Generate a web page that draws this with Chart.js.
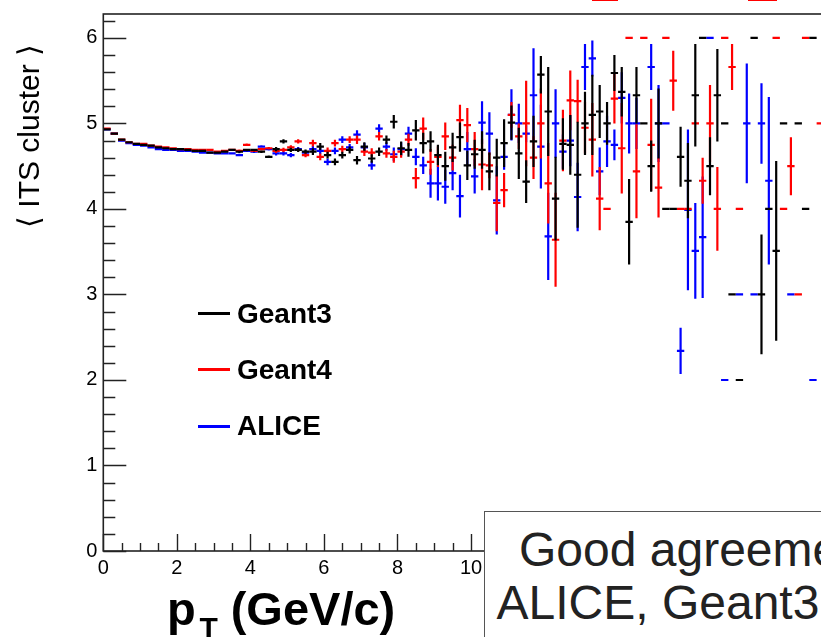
<!DOCTYPE html>
<html>
<head>
<meta charset="utf-8">
<title>ITS cluster vs pT</title>
<script src="https://cdn.jsdelivr.net/npm/chart.js@4.4.1/dist/chart.umd.min.js"></script>
<style>
  html, body { margin: 0; padding: 0; background: #fff; }
  body {
    width: 821px; height: 637px; overflow: hidden; position: relative;
    font-family: 'Liberation Sans', Arial, sans-serif; color: #000;
  }
  #chart { position: absolute; left: 0; top: 0; }
  .abs  { position: absolute; white-space: nowrap; line-height: 1; }
  .leg-line { position: absolute; left: 198px; width: 32px; height: 3px; }
  .leg-txt  { position: absolute; left: 237px; font-size: 28px; font-weight: bold; line-height: 1; }
  #ytitle {
    position: absolute; left: -91.2px; top: 120px; width: 240px; height: 32px;
    line-height: 32px; font-size: 30px; text-align: center; white-space: nowrap;
    transform: rotate(-90deg);
  }
  #note {
    position: absolute; left: 484px; top: 511px; width: 420px; height: 200px;
    background: #fff; border: 1.5px solid #555; box-sizing: border-box;
  }
  .note-txt { position: absolute; font-size: 48px; line-height: 1; color: #222; white-space: nowrap; }
  .topmark { position: absolute; top: 0; height: 1px; background: #f00; }
</style>
</head>
<body>
<canvas id="chart" width="900" height="637"></canvas>

<div id="ytitle">⟨ ITS cluster ⟩</div>

<div class="leg-line" style="top:311.5px;background:#000"></div>
<div class="leg-txt"  style="top:299.6px">Geant3</div>
<div class="leg-line" style="top:367.5px;background:#f00"></div>
<div class="leg-txt"  style="top:356.3px">Geant4</div>
<div class="leg-line" style="top:424.5px;background:#00f"></div>
<div class="leg-txt"  style="top:412.3px">ALICE</div>

<div class="abs" style="left:167px;top:585.2px;font-size:47px;font-weight:bold">p</div>
<div class="abs" style="left:199.5px;top:613.1px;font-size:30px;font-weight:bold">T</div>
<div class="abs" style="left:230.7px;top:585.2px;font-size:47px;font-weight:bold">(GeV/c)</div>

<div id="note"></div>
<div class="note-txt" style="left:519px;top:526.4px">Good agreement between</div>
<div class="note-txt" style="left:496.5px;top:579.4px">ALICE, Geant3 and Geant4</div>

<div class="topmark" style="left:592px;width:26px"></div>
<div class="topmark" style="left:748px;width:29px"></div>

<script>
// ---------------------------------------------
// Data: mean number of ITS clusters per pT bin
// ---------------------------------------------

const binWidth = 0.2;

const pT = [
  0.1, 0.3, 0.5, 0.7, 0.9, 1.1, 1.3, 1.5, 1.7, 1.9,
  2.1, 2.3, 2.5, 2.7, 2.9, 3.1, 3.3, 3.5, 3.7, 3.9,
  4.1, 4.3, 4.5, 4.7, 4.9, 5.1, 5.3, 5.5, 5.7, 5.9,
  6.1, 6.3, 6.5, 6.7, 6.9, 7.1, 7.3, 7.5, 7.7, 7.9,
  8.1, 8.3, 8.5, 8.7, 8.9, 9.1, 9.3, 9.5, 9.7, 9.9,
  10.1, 10.3, 10.5, 10.7, 10.9, 11.1, 11.3, 11.5, 11.7, 11.9,
  12.1, 12.3, 12.5, 12.7, 12.9, 13.1, 13.3, 13.5, 13.7, 13.9,
  14.1, 14.3, 14.5, 14.7, 14.9, 15.1, 15.3, 15.5, 15.7, 15.9,
  16.1, 16.3, 16.5, 16.7, 16.9, 17.1, 17.3, 17.5, 17.7, 17.9,
  18.1, 18.3, 18.5, 18.7, 18.9, 19.1, 19.3, 19.5
];

const geant3 = [
  4.93, 4.88, 4.81, 4.78, 4.76, 4.75, 4.74, 4.72, 4.71, 4.70,
  4.70, 4.69, 4.68, 4.68, 4.66, 4.66, 4.67, 4.69, 4.67, 4.69,
  4.69, 4.67, 4.61, 4.70, 4.79, 4.69, 4.69, 4.67, 4.67, 4.73,
  4.63, 4.55, 4.63, 4.69, 4.57, 4.73, 4.59, 4.67, 4.81, 5.02,
  4.71, 4.69, 4.92, 4.77, 4.79, 4.63, 4.50, 4.72, 4.84, 4.51,
  4.64, 4.69, 4.44, 4.60, 4.77, 5.01, 4.65, 4.32, 4.79, 5.57,
  5.14, 4.12, 4.76, 4.75, 4.40, 5.00, 5.10, 5.14, 5.00, 5.59,
  5.37, 3.85, 5.33, 5.00, 4.50, 5.00, 4.00, 4.00, 4.61, 4.33,
  5.33, 6.00, 4.50, 5.33, 5.00, 3.00, 2.00, null, 6.00, 3.00,
  4.00, 3.51, 5.00, null, 5.00, 4.00, 6.00, null
];
const geant3Err = [
  0.005, 0.005, 0.005, 0.005, 0.005, 0.005, 0.005, 0.005, 0.005, 0.005,
  0.008, 0.008, 0.008, 0.008, 0.008, 0.008, 0.008, 0.008, 0.015, 0.015,
  0.015, 0.015, 0.015, 0.025, 0.025, 0.025, 0.025, 0.025, 0.04, 0.04,
  0.04, 0.04, 0.04, 0.04, 0.05, 0.05, 0.05, 0.05, 0.05, 0.08,
  0.08, 0.08, 0.12, 0.12, 0.12, 0.12, 0.17, 0.17, 0.17, 0.17,
  0.17, 0.22, 0.22, 0.22, 0.28, 0.20, 0.30, 0.25, 0.30, 0.22,
  0.52, 0.49, 0.30, 0.35, 0.62, 0.37, 0.47, 0.31, 0.25, 0.21,
  0.29, 0.50, 0.33, 0, 0.30, 0.41, 0, 0, 0.35, 0.44,
  0.60, 0, 0.34, 0.54, 0, 0, 0, null, 0, 0.70,
  0, 1.05, 0, null, 0, 0, 0, null
];

const geant4 = [
  4.94, 4.88, 4.81, 4.78, 4.76, 4.76, 4.74, 4.73, 4.72, 4.71,
  4.70, 4.70, 4.69, 4.69, 4.69, 4.67, 4.68, 4.69, 4.68, 4.75,
  4.68, 4.70, 4.71, 4.68, 4.69, 4.72, 4.79, 4.63, 4.77, 4.61,
  4.68, 4.77, 4.70, 4.81, 4.81, 4.67, 4.66, 4.85, 4.65, 4.61,
  4.67, 4.81, 4.36, 4.94, 4.55, 4.61, 4.85, 4.60, 5.04, 4.98,
  4.70, 4.52, 4.51, 4.07, 4.22, 5.10, 4.85, 5.00, 4.60, 5.00,
  4.30, 3.64, 4.80, 5.27, 5.26, 4.95, 4.81, 4.12, 4.00, 5.29,
  4.71, 6.00, 4.44, 6.00, 4.75, 4.25, 6.00, 5.50, 4.00, 4.00,
  5.00, 4.33, 5.00, 4.00, 6.00, 5.66, 4.00, null, null, null,
  null, 6.00, 4.00, 4.50, 3.00, 6.00, null, 5.00
];
const geant4Err = [
  0.005, 0.005, 0.005, 0.005, 0.005, 0.005, 0.005, 0.005, 0.005, 0.005,
  0.008, 0.008, 0.008, 0.008, 0.008, 0.008, 0.008, 0.008, 0.015, 0.015,
  0.015, 0.015, 0.015, 0.025, 0.025, 0.025, 0.025, 0.025, 0.04, 0.04,
  0.04, 0.04, 0.04, 0.04, 0.05, 0.05, 0.05, 0.05, 0.05, 0.07,
  0.07, 0.07, 0.12, 0.13, 0.15, 0.12, 0.16, 0.15, 0.18, 0.20,
  0.20, 0.30, 0.15, 0.33, 0.20, 0.15, 0.15, 0.50, 0.25, 0.41,
  0.47, 0.55, 0.36, 0.35, 0.25, 0.30, 0.43, 0.37, 0, 0.29,
  0.53, 0, 0.55, 0, 0.54, 0.35, 0, 0.35, 0, 0,
  0, 0.27, 0.45, 0.49, 0, 0.27, 0, null, null, null,
  null, 0, 0, 0.34, 0, 0, null, 0
];

const alice = [
  4.93, 4.88, 4.80, 4.77, 4.75, 4.74, 4.72, 4.70, 4.69, 4.69,
  4.68, 4.68, 4.67, 4.66, 4.66, 4.65, 4.65, 4.65, 4.63, 4.68,
  4.67, 4.73, 4.70, 4.65, 4.65, 4.63, 4.70, 4.66, 4.70, 4.68,
  4.55, 4.68, 4.81, 4.72, 4.87, 4.72, 4.51, 4.94, 4.73, 4.64,
  4.70, 4.88, 4.61, 4.51, 4.30, 4.30, 4.26, 4.42, 4.15, 4.70,
  4.38, 5.01, 4.88, 4.10, 4.61, 5.10, 5.00, 4.88, 5.33, 4.73,
  3.68, 5.00, 4.67, 4.80, 4.14, 5.66, 5.76, 4.44, 4.79, 4.75,
  5.30, 5.00, 5.00, null, 5.66, 5.00, 5.00, null, 2.34, 3.99,
  3.51, 3.67, 6.00, null, 2.00, null, 3.00, 5.00, 3.00, 5.00,
  4.33, null, null, 3.00, null, null, 2.00, null
];
const aliceErr = [
  0.005, 0.005, 0.005, 0.005, 0.005, 0.005, 0.005, 0.005, 0.005, 0.005,
  0.008, 0.008, 0.008, 0.008, 0.008, 0.008, 0.008, 0.008, 0.015, 0.015,
  0.015, 0.015, 0.015, 0.025, 0.025, 0.025, 0.025, 0.025, 0.04, 0.04,
  0.04, 0.04, 0.04, 0.04, 0.05, 0.05, 0.05, 0.05, 0.05, 0.08,
  0.08, 0.08, 0.10, 0.10, 0.17, 0.20, 0.20, 0.20, 0.25, 0.20,
  0.20, 0.25, 0.25, 0.40, 0.15, 0.30, 0.23, 0.10, 0.55, 0.49,
  0.51, 0.40, 0.20, 0.30, 0.40, 0.27, 0.21, 0.28, 0.30, 0.18,
  0.30, 0.35, 0.30, null, 0.27, 0.45, 0, null, 0.27, 0.94,
  0.56, 0.71, 0, null, 0, null, 0, 0.70, 0, 0.47,
  0.98, null, null, 0, null, null, 0, null
];

const xTicks = [0, 2, 4, 6, 8, 10, 12, 14, 16, 18, 20];
const yTicks = [0, 1, 2, 3, 4, 5, 6];

// ---------------------------------------------
// Helpers / plugins
// ---------------------------------------------

function points(vals, errs) {
  return pT.map((x, i) => ({ x, y: vals[i], err: errs[i] }))
           .filter(p => p.y !== null);
}

// no extra label padding, the frame must sit exactly where ROOT put it
function fixBox(s, size) {
  if (s.isHorizontal()) s.height = size; else s.width = size;
  s.paddingTop = s.paddingBottom = s.paddingLeft = s.paddingRight = 0;
}

// ROOT-style error bars: horizontal bar = bin width, vertical = stat. error
const errorBars = {
  id: 'errorBars',
  afterDatasetsDraw(chart) {
    const { ctx, chartArea: a, scales: { x, y } } = chart;
    const half = binWidth / 2;
    ctx.save();
    ctx.beginPath();
    ctx.rect(a.left, a.top, a.right - a.left, a.bottom - a.top);
    ctx.clip();
    ctx.lineWidth = 2.2;
    // last dataset first, so Geant3 ends up on top
    for (let d = chart.data.datasets.length - 1; d >= 0; d--) {
      const ds = chart.data.datasets[d];
      ctx.strokeStyle = ds.borderColor;
      ds.data.forEach(p => {
        const px = x.getPixelForValue(p.x);
        const py = y.getPixelForValue(p.y);
        ctx.beginPath();
        ctx.moveTo(x.getPixelForValue(p.x - half), py);
        ctx.lineTo(x.getPixelForValue(p.x + half), py);
        if (p.err > 0) {
          ctx.moveTo(px, y.getPixelForValue(p.y + p.err));
          ctx.lineTo(px, y.getPixelForValue(p.y - p.err));
        }
        ctx.stroke();
      });
    }
    ctx.restore();
  }
};

// frame + inward ticks like a ROOT TFrame
const rootFrame = {
  id: 'rootFrame',
  afterDraw(chart) {
    const { ctx, chartArea: a, scales: { x, y } } = chart;
    ctx.save();
    ctx.strokeStyle = '#222';
    ctx.lineWidth = 1.6;
    ctx.strokeRect(a.left, a.top, a.right - a.left, a.bottom - a.top);

    ctx.lineWidth = 1.4;
    ctx.beginPath();
    for (let v = 0; v <= 6.2001; v += 0.2) {
      const py = Math.round(y.getPixelForValue(v)) + 0.5;
      const major = Math.abs(v - Math.round(v)) < 1e-6;
      ctx.moveTo(a.left, py);
      ctx.lineTo(a.left + (major ? 23 : 12), py);
    }
    for (let v = 0; v <= 20.001; v += 0.5) {
      const px = Math.round(x.getPixelForValue(v)) + 0.5;
      const major = Math.abs(v / 2 - Math.round(v / 2)) < 1e-6;
      ctx.moveTo(px, a.bottom);
      ctx.lineTo(px, a.bottom - (major ? 17 : 8));
    }
    ctx.stroke();
    ctx.restore();
  }
};

// ---------------------------------------------
// Chart
// ---------------------------------------------

Chart.defaults.font.family = "'Liberation Sans', Arial, sans-serif";
Chart.defaults.color = '#000';

new Chart(document.getElementById('chart'), {
  type: 'scatter',
  data: {
    datasets: [
      { label: 'Geant3', data: points(geant3, geant3Err), borderColor: '#000000' },
      { label: 'Geant4', data: points(geant4, geant4Err), borderColor: '#ff0000' },
      { label: 'ALICE',  data: points(alice, aliceErr),   borderColor: '#0000ff' },
    ]
  },
  options: {
    responsive: false,
    animation: false,
    events: [],
    elements: { point: { radius: 0, hoverRadius: 0 } },
    layout: { padding: { left: 0, top: 14, right: 61.3, bottom: 0 } },
    plugins: { legend: { display: false }, tooltip: { enabled: false } },
    scales: {
      x: {
        type: 'linear', min: 0, max: 20,
        grid: { display: false, drawTicks: false },
        border: { display: false },
        afterFit: s => fixBox(s, 86),
        afterBuildTicks: s => { s.ticks = xTicks.map(v => ({ value: v })); },
        ticks: { padding: 5, maxRotation: 0, autoSkip: false, font: { size: 20 } }
      },
      y: {
        type: 'linear', min: 0, max: 6.28,
        grid: { display: false, drawTicks: false },
        border: { display: false },
        afterFit: s => fixBox(s, 103.3),
        afterBuildTicks: s => { s.ticks = yTicks.map(v => ({ value: v })); },
        ticks: { padding: 6, autoSkip: false, font: { size: 20 } }
      }
    }
  },
  plugins: [errorBars, rootFrame]
});
</script>
</body>
</html>
